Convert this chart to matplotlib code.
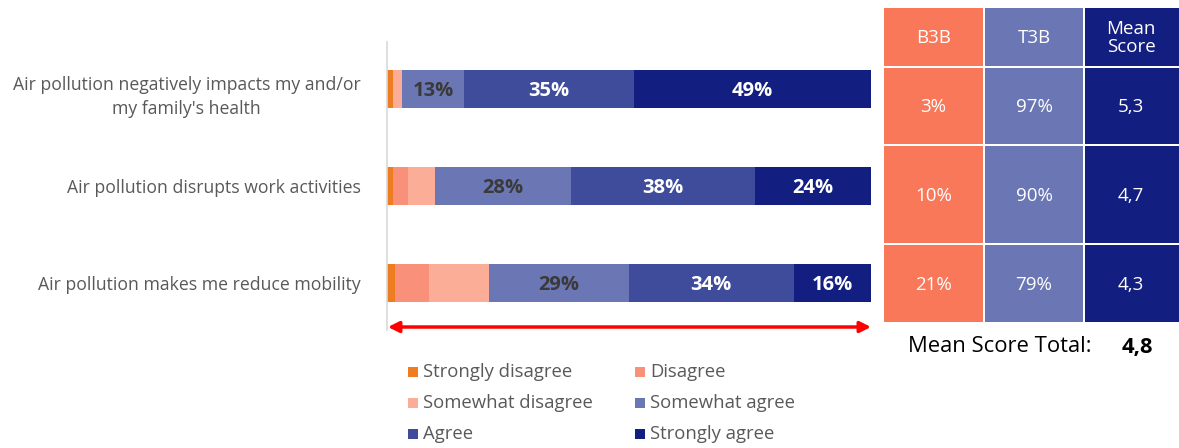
import matplotlib
matplotlib.use("Agg")
import matplotlib.pyplot as plt
from matplotlib.patches import Rectangle

# ---- data ----
statements = [
    "Air pollution negatively impacts my and/or\nmy family's health",
    "Air pollution disrupts work activities",
    "Air pollution makes me reduce mobility",
]
levels = ["Strongly disagree", "Disagree", "Somewhat disagree",
          "Somewhat agree", "Agree", "Strongly agree"]
strongly_disagree = [1.2, 1.2, 1.6]
disagree = [0.0, 3.2, 7.0]
somewhat_disagree = [1.8, 5.6, 12.4]
somewhat_agree = [13, 28, 29]
agree = [35, 38, 34]
strongly_agree = [49, 24, 16]
series = [strongly_disagree, disagree, somewhat_disagree,
          somewhat_agree, agree, strongly_agree]

b3b = ["3%", "10%", "21%"]
t3b = ["97%", "90%", "79%"]
mean_score = ["5,3", "4,7", "4,3"]
table_header = ["B3B", "T3B", "Mean\nScore"]
mean_total = "4,8"

# ---- style ----
FONT = "Open Sans"
plt.rcParams["font.family"] = [FONT, "DejaVu Sans"]
level_colors = ["#EE7D22", "#F8907A", "#FCAD98", "#6B77B4", "#3E4C9B", "#131F80"]
label_colors = [None, None, None, "#3A3A3A", "white", "white"]
table_colors = ["#F87859", "#6B77B4", "#131F80"]
GRAY = "#595959"

W, H = 1179, 448
fig = plt.figure(figsize=(W / 100, H / 100), dpi=100)


def fx(px):
    return px / W


def fy(py):
    return 1 - py / H


# ---- stacked bars ----
ax_l, ax_r, ax_t, ax_b = 387, 871, 42, 330
ax = fig.add_axes([fx(ax_l), fy(ax_b), fx(ax_r - ax_l), (ax_b - ax_t) / H])
row_gap = 97
first_row = 89
ax.set_xlim(0, 100)
ax.set_ylim((ax_b - first_row) / row_gap, (ax_t - first_row) / row_gap)

ypos = list(range(len(statements)))
left = [0.0] * len(statements)
for vals, col, lcol in zip(series, level_colors, label_colors):
    ax.barh(ypos, vals, left=left, height=0.39, color=col, edgecolor="none")
    if lcol is not None:
        for i, v in enumerate(vals):
            ax.text(left[i] + v / 2, i + 0.02, f"{v:.0f}%", ha="center", va="center",
                    color=lcol, fontsize=14.5, fontweight="bold")
    left = [a + b for a, b in zip(left, vals)]

for i, s in enumerate(statements):
    ax.text(-5.5, i + (0.08 if "\n" in s else 0.02), s, ha="right", va="center",
            multialignment="center", color=GRAY, fontsize=12.7, linespacing=1.4)

for sp in ["top", "right", "bottom"]:
    ax.spines[sp].set_visible(False)
ax.spines["left"].set_color("#D9D9D9")
ax.spines["left"].set_linewidth(1.2)
ax.set_xticks([])
ax.set_yticks([])

arrow_y = (327 - first_row) / row_gap
ax.annotate("", xy=(100, arrow_y), xytext=(0.2, arrow_y),
            arrowprops=dict(arrowstyle="<|-|>", color="#FF0000", lw=2.5,
                            mutation_scale=16, shrinkA=0, shrinkB=0),
            annotation_clip=False)

# ---- summary table ----
col_edges = [(884, 983), (985, 1083), (1085, 1181)]
row_edges = [(8, 66), (68, 144), (146, 243), (245, 322)]
cells = [table_header, *zip(b3b, t3b, mean_score)]
for r, (y0, y1) in enumerate(row_edges):
    row_vals = cells[r]
    for c, (x0, x1) in enumerate(col_edges):
        fig.patches.append(Rectangle((fx(x0), fy(y1)), fx(x1 - x0), (y1 - y0) / H,
                                     transform=fig.transFigure,
                                     facecolor=table_colors[c], edgecolor="none"))
        fig.text(fx((x0 + x1) / 2 - (2 if c == 2 else 0)), fy((y0 + y1) / 2 + 1),
                 row_vals[c], ha="center", va="center", color="white",
                 fontsize=13.5, linespacing=1.0)

fig.text(fx(908), fy(347), "Mean Score Total:", ha="left", va="center",
         color="black", fontsize=15.8)
fig.text(fx(1137), fy(347), mean_total, ha="center", va="center",
         color="black", fontsize=15.8, fontweight="bold")

# ---- legend ----
leg_cols = [408, 635]
leg_rows = [372, 403, 434]
for k, (name, col) in enumerate(zip(levels, level_colors)):
    cx = leg_cols[k % 2]
    cy = leg_rows[k // 2]
    fig.patches.append(Rectangle((fx(cx), fy(cy + 5)), fx(10), 10 / H,
                                 transform=fig.transFigure,
                                 facecolor=col, edgecolor="none"))
    fig.text(fx(cx + 15), fy(cy), name, ha="left", va="center",
             color=GRAY, fontsize=13.3)

fig.savefig("out.png", dpi=100)
